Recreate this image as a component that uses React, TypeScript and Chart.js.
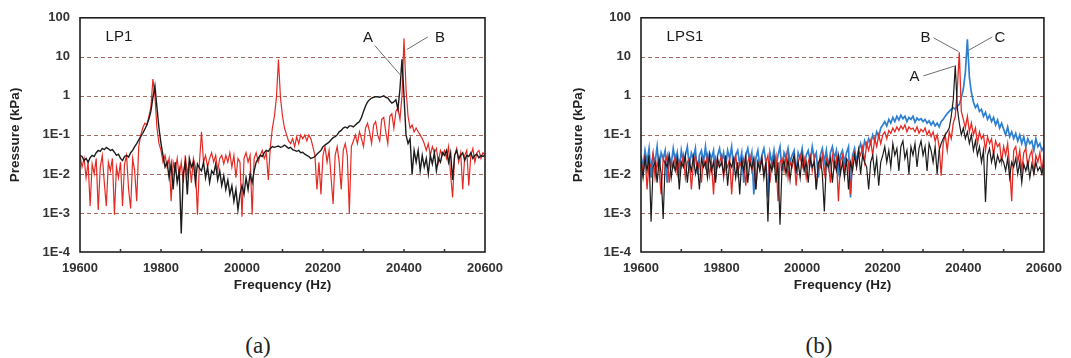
import React, { useEffect, useRef } from "react";
import { Chart, registerables } from "chart.js";

Chart.register(...registerables);

// ---------- data ----------
const FREQ_HZ = [
  19600, 19605, 19610, 19615, 19620, 19625, 19630, 19635, 19640, 19645, 19650, 19655, 19660, 19665, 19670, 19675, 19680, 19685, 19690, 19695,
  19700, 19705, 19710, 19715, 19720, 19725, 19730, 19735, 19740, 19745, 19750, 19755, 19760, 19765, 19770, 19775, 19780, 19785, 19790, 19795,
  19800, 19805, 19810, 19815, 19820, 19825, 19830, 19835, 19840, 19845, 19850, 19855, 19860, 19865, 19870, 19875, 19880, 19885, 19890, 19895,
  19900, 19905, 19910, 19915, 19920, 19925, 19930, 19935, 19940, 19945, 19950, 19955, 19960, 19965, 19970, 19975, 19980, 19985, 19990, 19995,
  20000, 20005, 20010, 20015, 20020, 20025, 20030, 20035, 20040, 20045, 20050, 20055, 20060, 20065, 20070, 20075, 20080, 20085, 20090, 20095,
  20100, 20105, 20110, 20115, 20120, 20125, 20130, 20135, 20140, 20145, 20150, 20155, 20160, 20165, 20170, 20175, 20180, 20185, 20190, 20195,
  20200, 20205, 20210, 20215, 20220, 20225, 20230, 20235, 20240, 20245, 20250, 20255, 20260, 20265, 20270, 20275, 20280, 20285, 20290, 20295,
  20300, 20305, 20310, 20315, 20320, 20325, 20330, 20335, 20340, 20345, 20350, 20355, 20360, 20365, 20370, 20375, 20380, 20385, 20390, 20395,
  20400, 20405, 20410, 20415, 20420, 20425, 20430, 20435, 20440, 20445, 20450, 20455, 20460, 20465, 20470, 20475, 20480, 20485, 20490, 20495,
  20500, 20505, 20510, 20515, 20520, 20525, 20530, 20535, 20540, 20545, 20550, 20555, 20560, 20565, 20570, 20575, 20580, 20585, 20590, 20595, 20600,
];

// (a) LP1 — pressure in kPa
const LP1_BLACK = [
  0.03, 0.028, 0.022, 0.025, 0.02, 0.026, 0.03, 0.028, 0.035, 0.04, 0.038, 0.045, 0.042, 0.048, 0.044, 0.04, 0.042, 0.036, 0.03, 0.032,
  0.025, 0.022, 0.028, 0.03, 0.027, 0.035, 0.04, 0.05, 0.06, 0.075, 0.09, 0.11, 0.14, 0.18, 0.25, 0.4, 0.9, 1.8, 0.5, 0.15,
  0.06, 0.03, 0.015, 0.02, 0.008, 0.018, 0.004, 0.02, 0.006, 0.012, 0.0003, 0.01, 0.02, 0.003, 0.025, 0.015, 0.02, 0.006, 0.018, 0.014,
  0.012, 0.02, 0.008, 0.015, 0.006, 0.012, 0.01, 0.018, 0.007, 0.012, 0.005, 0.009, 0.004, 0.007, 0.003, 0.005, 0.002, 0.004, 0.0012, 0.003,
  0.005, 0.003, 0.008, 0.004, 0.01, 0.006, 0.012, 0.02, 0.025, 0.03, 0.028, 0.035, 0.04, 0.038, 0.045, 0.05, 0.048, 0.05, 0.052, 0.048,
  0.05, 0.055, 0.05, 0.045, 0.048, 0.042, 0.04, 0.038, 0.04, 0.035, 0.036, 0.032, 0.03, 0.028, 0.025, 0.026, 0.028, 0.032, 0.036, 0.04,
  0.05, 0.055, 0.06, 0.065, 0.075, 0.085, 0.09, 0.1, 0.12, 0.13, 0.15, 0.16, 0.15, 0.17, 0.17, 0.16, 0.18, 0.2, 0.22, 0.28,
  0.4, 0.55, 0.7, 0.8, 0.88, 0.92, 0.95, 0.95, 0.92, 0.96, 1.0, 0.92, 0.88, 0.75, 0.65, 0.7, 0.8, 0.45, 1.5, 8.6,
  1.0, 0.1, 0.06, 0.08, 0.01, 0.04, 0.02, 0.04, 0.012, 0.03, 0.015, 0.025, 0.01, 0.03, 0.018, 0.035, 0.012, 0.025, 0.02, 0.035,
  0.03, 0.04, 0.02, 0.035, 0.007, 0.03, 0.04, 0.025, 0.03, 0.035, 0.022, 0.03, 0.028, 0.035, 0.025, 0.03, 0.032, 0.026, 0.03, 0.028, 0.03,
];

const LP1_RED = [
  0.03, 0.015, 0.025, 0.008, 0.02, 0.0015, 0.018, 0.01, 0.025, 0.0012, 0.015, 0.03, 0.006, 0.0015, 0.02, 0.012, 0.025, 0.0009, 0.015, 0.008,
  0.02, 0.0015, 0.018, 0.03, 0.004, 0.0013, 0.025, 0.012, 0.002, 0.05, 0.1, 0.15, 0.2, 0.18, 0.3, 0.5, 2.7, 1.0, 0.15, 0.06,
  0.04, 0.02, 0.03, 0.015, 0.025, 0.002, 0.02, 0.012, 0.025, 0.008, 0.02, 0.006, 0.03, 0.01, 0.02, 0.006, 0.025, 0.015, 0.0009, 0.02,
  0.12, 0.02, 0.03, 0.015, 0.025, 0.035, 0.02, 0.03, 0.012, 0.025, 0.03, 0.018, 0.03, 0.02, 0.035, 0.015, 0.03, 0.008, 0.025, 0.02,
  0.0008, 0.025, 0.035, 0.02, 0.03, 0.0009, 0.025, 0.035, 0.02, 0.03, 0.04, 0.025, 0.035, 0.007, 0.05, 0.15, 0.3, 0.9, 8.5, 0.9,
  0.3, 0.15, 0.1, 0.07, 0.06, 0.08, 0.05, 0.09, 0.06, 0.1, 0.08, 0.1, 0.07, 0.1, 0.08, 0.05, 0.03, 0.004, 0.02, 0.003,
  0.03, 0.05, 0.02, 0.04, 0.008, 0.0017, 0.03, 0.05, 0.02, 0.004, 0.04, 0.06, 0.03, 0.001, 0.05, 0.07, 0.1, 0.06, 0.12, 0.08,
  0.05, 0.15, 0.2, 0.12, 0.06, 0.18, 0.22, 0.1, 0.07, 0.25, 0.28, 0.12, 0.06, 0.3, 0.35, 0.15, 0.4, 0.5, 0.25, 1.0,
  30, 1.5, 0.3, 0.15, 0.18, 0.12, 0.15, 0.12, 0.1, 0.08, 0.06, 0.04, 0.06, 0.03, 0.05, 0.035, 0.045, 0.02, 0.04, 0.03,
  0.04, 0.025, 0.05, 0.01, 0.0025, 0.03, 0.045, 0.02, 0.035, 0.004, 0.03, 0.04, 0.005, 0.03, 0.045, 0.02, 0.035, 0.04, 0.025, 0.035, 0.03,
];

// (b) LPS1 — pressure in kPa
const LPS1_BLACK = [
  0.02, 0.008, 0.025, 0.012, 0.03, 0.0006, 0.015, 0.02, 0.006, 0.025, 0.01, 0.0007, 0.02, 0.015, 0.03, 0.008, 0.02, 0.012, 0.025, 0.004,
  0.02, 0.015, 0.03, 0.006, 0.02, 0.012, 0.028, 0.01, 0.018, 0.004, 0.025, 0.015, 0.02, 0.008, 0.03, 0.012, 0.02, 0.006, 0.025, 0.015,
  0.02, 0.01, 0.03, 0.005, 0.02, 0.015, 0.025, 0.008, 0.02, 0.003, 0.022, 0.012, 0.028, 0.006, 0.02, 0.014, 0.025, 0.004, 0.02, 0.012,
  0.025, 0.008, 0.02, 0.0006, 0.018, 0.012, 0.025, 0.006, 0.02, 0.0005, 0.015, 0.022, 0.01, 0.025, 0.007, 0.02, 0.03, 0.012, 0.02, 0.008,
  0.03, 0.012, 0.02, 0.006, 0.025, 0.015, 0.02, 0.004, 0.018, 0.025, 0.01, 0.0011, 0.02, 0.015, 0.025, 0.006, 0.02, 0.012, 0.03, 0.01,
  0.02, 0.008, 0.025, 0.004, 0.02, 0.012, 0.03, 0.015, 0.04, 0.01, 0.03, 0.02, 0.015, 0.004, 0.02, 0.03, 0.01, 0.025, 0.005, 0.02,
  0.03, 0.05, 0.02, 0.04, 0.015, 0.06, 0.03, 0.045, 0.012, 0.05, 0.07, 0.025, 0.04, 0.01, 0.05, 0.03, 0.06, 0.015, 0.045, 0.07,
  0.03, 0.05, 0.012, 0.06, 0.04, 0.02, 0.05, 0.01, 0.04, 0.06, 0.08, 0.1, 0.12, 0.15, 0.3, 0.8, 6, 0.5, 0.2, 0.1,
  0.15, 0.08, 0.12, 0.06, 0.1, 0.04, 0.07, 0.03, 0.05, 0.02, 0.04, 0.0019, 0.03, 0.045, 0.02, 0.035, 0.015, 0.03, 0.02, 0.025,
  0.02, 0.012, 0.025, 0.008, 0.02, 0.015, 0.025, 0.01, 0.02, 0.006, 0.018, 0.012, 0.02, 0.008, 0.018, 0.01, 0.02, 0.012, 0.015, 0.01, 0.018,
];

const LPS1_RED = [
  0.025, 0.01, 0.03, 0.004, 0.02, 0.015, 0.035, 0.008, 0.02, 0.012, 0.003, 0.025, 0.018, 0.03, 0.006, 0.02, 0.015, 0.028, 0.01, 0.022,
  0.015, 0.03, 0.008, 0.02, 0.025, 0.004, 0.018, 0.03, 0.012, 0.02, 0.006, 0.025, 0.015, 0.03, 0.009, 0.02, 0.003, 0.025, 0.015, 0.02,
  0.03, 0.008, 0.02, 0.015, 0.025, 0.003, 0.02, 0.03, 0.01, 0.02, 0.015, 0.025, 0.005, 0.02, 0.03, 0.012, 0.022, 0.004, 0.02, 0.015,
  0.025, 0.01, 0.02, 0.03, 0.006, 0.02, 0.015, 0.028, 0.002, 0.02, 0.025, 0.012, 0.03, 0.008, 0.02, 0.015, 0.025, 0.005, 0.02, 0.03,
  0.015, 0.025, 0.008, 0.02, 0.03, 0.012, 0.025, 0.004, 0.02, 0.015, 0.03, 0.01, 0.025, 0.02, 0.006, 0.03, 0.015, 0.025, 0.002, 0.02,
  0.03, 0.012, 0.025, 0.02, 0.003, 0.025, 0.035, 0.015, 0.04, 0.03, 0.05, 0.02, 0.06, 0.04, 0.07, 0.03, 0.08, 0.05, 0.1, 0.06,
  0.1, 0.12, 0.08, 0.13, 0.11, 0.15, 0.12, 0.16, 0.13, 0.17, 0.14, 0.18, 0.12, 0.16, 0.14, 0.15, 0.12, 0.16, 0.11, 0.14,
  0.12, 0.15, 0.1, 0.13, 0.09, 0.12, 0.07, 0.1, 0.05, 0.009, 0.06, 0.1, 0.04, 0.12, 0.08, 0.2, 0.3, 1.5, 13, 0.4,
  0.25, 0.15, 0.3, 0.12, 0.2, 0.1, 0.15, 0.06, 0.12, 0.08, 0.1, 0.04, 0.09, 0.06, 0.08, 0.03, 0.07, 0.05, 0.06, 0.02,
  0.05, 0.03, 0.06, 0.015, 0.002, 0.04, 0.05, 0.02, 0.04, 0.012, 0.035, 0.045, 0.015, 0.03, 0.04, 0.01, 0.03, 0.02, 0.035, 0.012, 0.03,
];

const LPS1_BLUE = [
  0.03, 0.015, 0.04, 0.02, 0.045, 0.008, 0.03, 0.02, 0.05, 0.012, 0.035, 0.025, 0.04, 0.006, 0.03, 0.018, 0.045, 0.02, 0.035, 0.012,
  0.04, 0.02, 0.03, 0.05, 0.015, 0.035, 0.025, 0.045, 0.01, 0.03, 0.04, 0.02, 0.05, 0.015, 0.035, 0.025, 0.04, 0.008, 0.03, 0.045,
  0.02, 0.035, 0.015, 0.04, 0.025, 0.05, 0.012, 0.03, 0.04, 0.018, 0.035, 0.006, 0.03, 0.045, 0.02, 0.035, 0.003, 0.025, 0.04, 0.015,
  0.03, 0.045, 0.02, 0.0025, 0.035, 0.02, 0.04, 0.015, 0.03, 0.05, 0.012, 0.035, 0.025, 0.045, 0.02, 0.03, 0.04, 0.01, 0.035, 0.025,
  0.045, 0.015, 0.03, 0.04, 0.02, 0.05, 0.025, 0.035, 0.008, 0.03, 0.045, 0.02, 0.04, 0.015, 0.035, 0.05, 0.025, 0.04, 0.012, 0.03,
  0.04, 0.02, 0.035, 0.05, 0.0025, 0.03, 0.045, 0.02, 0.04, 0.06, 0.035, 0.07, 0.05, 0.08, 0.06, 0.1, 0.07, 0.12, 0.09, 0.15,
  0.18, 0.22, 0.17, 0.25, 0.2, 0.28, 0.22, 0.3, 0.24, 0.32, 0.26, 0.3, 0.22, 0.28, 0.25, 0.3, 0.21, 0.27, 0.24, 0.26,
  0.22, 0.25, 0.2, 0.23, 0.18, 0.22, 0.17, 0.2, 0.16, 0.22, 0.25, 0.3, 0.35, 0.4, 0.45, 0.5, 0.45, 0.55, 0.6, 0.9,
  1.5, 4, 28, 3, 1.2, 0.7, 0.5, 0.6, 0.4, 0.45, 0.3, 0.38, 0.25, 0.32, 0.22, 0.28, 0.18, 0.24, 0.15, 0.2,
  0.14, 0.1, 0.16, 0.09, 0.12, 0.08, 0.11, 0.07, 0.1, 0.06, 0.09, 0.05, 0.08, 0.06, 0.07, 0.04, 0.08, 0.05, 0.06, 0.04, 0.05,
];

// ---------- axes ----------
const X_MIN = 19600;
const X_MAX = 20600;
const X_LABEL_STEP = 200;
const X_MINOR_TICKS = [19700, 19800, 19900, 20000, 20100, 20200, 20300, 20400, 20500];
const Y_MIN = 0.0001;
const Y_MAX = 100;
const Y_TICK_VALUES = [100, 10, 1, 0.1, 0.01, 0.001, 0.0001];
const Y_TICK_LABELS = ["100", "10", "1", "1E-1", "1E-2", "1E-3", "1E-4"];
const Y_GRID_VALUES = [10, 1, 0.1, 0.01, 0.001];
const X_TITLE = "Frequency (Hz)";
const Y_TITLE = "Pressure (kPa)";

// ---------- annotations (data coordinates) ----------
type Note = { text: string; x: number; y: number; from?: [number, number]; to?: [number, number] };
const LP1_NOTES: Note[] = [
  { text: "LP1", x: 19696, y: 32.5 },
  { text: "A", x: 20311, y: 30.7, from: [20328, 19.4], to: [20393, 3.25] },
  { text: "B", x: 20489, y: 30.7, from: [20459, 32.5], to: [20407, 15.4] },
];
const LPS1_NOTES: Note[] = [
  { text: "LPS1", x: 19709, y: 32.5 },
  { text: "B", x: 20306, y: 30.7, from: [20326, 30.7], to: [20388, 13.7] },
  { text: "C", x: 20491, y: 30.7, from: [20472, 32.5], to: [20412, 14.5] },
  { text: "A", x: 20279, y: 3.07, from: [20301, 3.25], to: [20378, 5.8] },
];

const FONT = "'Liberation Sans', Arial, Helvetica, sans-serif";
const BLACK = "#1c1c1c";
const RED = "#e52a24";
const BLUE = "#2d7fd2";

type Series = { values: number[]; color: string; width: number };

function makeDecor(notes: Note[]) {
  return {
    id: "decor",
    beforeDatasetsDraw(chart: any) {
      const { ctx, chartArea: a, scales } = chart;
      const y = scales.y;
      ctx.save();
      ctx.strokeStyle = "rgba(155,90,80,0.9)";
      ctx.lineWidth = 1;
      ctx.setLineDash([4, 3]);
      for (const v of Y_GRID_VALUES) {
        const py = Math.round(y.getPixelForValue(v)) + 0.5;
        ctx.beginPath();
        ctx.moveTo(a.left, py);
        ctx.lineTo(a.right, py);
        ctx.stroke();
      }
      ctx.restore();
    },
    afterDatasetsDraw(chart: any) {
      const { ctx, chartArea: a, scales } = chart;
      const x = scales.x;
      const y = scales.y;
      ctx.save();
      ctx.strokeStyle = "#1e1e1e";
      ctx.lineWidth = 1.6;
      ctx.strokeRect(a.left, a.top, a.right - a.left, a.bottom - a.top);
      ctx.lineWidth = 1.5;
      ctx.strokeStyle = "#333";
      for (const v of X_MINOR_TICKS) {
        const px = x.getPixelForValue(v);
        ctx.beginPath();
        ctx.moveTo(px, a.bottom);
        ctx.lineTo(px, a.bottom - 3);
        ctx.stroke();
      }
      for (const n of notes) {
        if (n.from && n.to) {
          ctx.strokeStyle = "#6e6e6e";
          ctx.lineWidth = 1;
          ctx.beginPath();
          ctx.moveTo(x.getPixelForValue(n.from[0]), y.getPixelForValue(n.from[1]));
          ctx.lineTo(x.getPixelForValue(n.to[0]), y.getPixelForValue(n.to[1]));
          ctx.stroke();
        }
        ctx.fillStyle = "#1a1a1a";
        ctx.font = `15px ${FONT}`;
        ctx.textAlign = "center";
        ctx.textBaseline = "middle";
        ctx.fillText(n.text, x.getPixelForValue(n.x), y.getPixelForValue(n.y));
      }
      ctx.restore();
    },
  };
}

function yLabel(v: number) {
  for (let i = 0; i < Y_TICK_VALUES.length; i++) {
    if (Math.abs(Math.log10(v) - Math.log10(Y_TICK_VALUES[i])) < 1e-6) return Y_TICK_LABELS[i];
  }
  return "";
}

function SpectrumChart(props: {
  left: number;
  width: number;
  yAxisWidth: number;
  rightPad: number;
  yTitlePad: number;
  series: Series[];
  notes: Note[];
}) {
  const ref = useRef<HTMLCanvasElement>(null);
  useEffect(() => {
    const tickFont = { family: FONT, size: 13, weight: "bold" as const };
    const titleFont = { family: FONT, size: 13.5, weight: "bold" as const };
    const chart = new Chart(ref.current as HTMLCanvasElement, {
      type: "line",
      data: {
        datasets: props.series.map((s) => ({
          data: FREQ_HZ.map((f, i) => ({ x: f, y: s.values[i] })),
          borderColor: s.color,
          borderWidth: s.width,
          borderJoinStyle: "miter",
          pointRadius: 0,
          fill: false,
          tension: 0,
        })),
      },
      options: {
        responsive: false,
        animation: false,
        devicePixelRatio: 1,
        layout: { padding: { left: 0, right: props.rightPad, top: 12, bottom: 0 } },
        plugins: { legend: { display: false }, tooltip: { enabled: false } },
        scales: {
          x: {
            type: "linear",
            min: X_MIN,
            max: X_MAX,
            afterFit: (s: any) => {
              s.height = 48;
            },
            ticks: {
              stepSize: X_LABEL_STEP,
              font: tickFont,
              color: "#333",
              padding: 9,
              maxRotation: 0,
              autoSkip: false,
              callback: (v: any) => String(v),
            },
            grid: { display: false, drawTicks: false },
            border: { display: false },
            title: { display: true, text: X_TITLE, font: titleFont, color: "#222", padding: { top: 0, bottom: 7 } },
          },
          y: {
            type: "logarithmic",
            min: Y_MIN,
            max: Y_MAX,
            afterFit: (s: any) => {
              s.width = props.yAxisWidth;
            },
            afterBuildTicks: (s: any) => {
              s.ticks = Y_TICK_VALUES.map((v) => ({ value: v }));
            },
            ticks: {
              font: tickFont,
              color: "#333",
              padding: 10,
              autoSkip: false,
              callback: (v: any) => yLabel(Number(v)),
            },
            grid: { display: false, drawTicks: false },
            border: { display: false },
            title: { display: true, text: Y_TITLE, font: titleFont, color: "#222", padding: { top: props.yTitlePad, bottom: 0 } },
          },
        },
      } as any,
      plugins: [makeDecor(props.notes) as any],
    });
    return () => chart.destroy();
  }, []);
  return (
    <canvas
      ref={ref}
      width={props.width}
      height={300}
      style={{ position: "absolute", left: props.left, top: 0, width: props.width, height: 300 }}
    />
  );
}

export default function App() {
  const captionStyle = (cx: number): React.CSSProperties => ({
    position: "absolute",
    left: cx,
    top: 345,
    transform: "translate(-50%, -50%)",
    fontFamily: "'Liberation Serif', 'Times New Roman', serif",
    fontSize: 23,
    lineHeight: 1,
    color: "#222",
    whiteSpace: "nowrap",
  });
  return (
    <div style={{ position: "fixed", left: 0, top: 0, width: 1071, height: 358, background: "#fff", overflow: "hidden" }}>
      <SpectrumChart
        left={0}
        width={540}
        yAxisWidth={80}
        rightPad={55}
        yTitlePad={7}
        series={[
          { values: LP1_BLACK, color: BLACK, width: 1.4 },
          { values: LP1_RED, color: RED, width: 1.2 },
        ]}
        notes={LP1_NOTES}
      />
      <SpectrumChart
        left={540}
        width={531}
        yAxisWidth={101}
        rightPad={25}
        yTitlePad={30}
        series={[
          { values: LPS1_BLACK, color: BLACK, width: 1.2 },
          { values: LPS1_RED, color: RED, width: 1.3 },
          { values: LPS1_BLUE, color: BLUE, width: 1.7 },
        ]}
        notes={LPS1_NOTES}
      />
      <div style={captionStyle(258)}>(a)</div>
      <div style={captionStyle(819)}>(b)</div>
    </div>
  );
}
